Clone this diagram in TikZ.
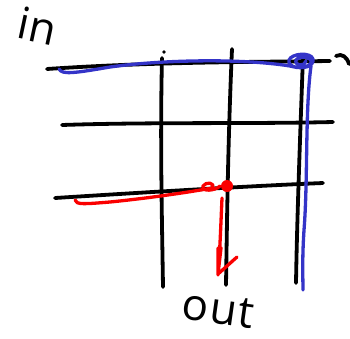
\documentclass[tikz,border=0pt]{standalone}
\usepackage{fontspec}
\setmainfont{Open Sans}
\begin{document}
\begin{tikzpicture}[x=1pt,y=-1pt,
  ink/.style={line width=3.8pt,line cap=round,line join=round,black},
  bluepen/.style={line width=3.3pt,line cap=round,line join=round,color={rgb,255:red,52;green,52;blue,200}},
  redpen/.style={line width=3.3pt,line cap=round,line join=round,color={rgb,255:red,250;green,0;blue,0}},
  label/.style={font=\fontsize{44}{44}\selectfont,inner sep=0pt}]
\useasboundingbox (0,0) rectangle (350,338);
% grid
\draw[ink] (47,69) .. controls (150,62) and (250,62) .. (330,61);
\draw[ink] (62,125) .. controls (150,122) and (250,124) .. (333,122);
\draw[ink] (55,198) .. controls (150,192) and (250,186) .. (323,183);
\draw[ink] (162,58) .. controls (160,140) and (162,220) .. (163,287);
\draw[ink] (232,49) .. controls (228,140) and (227,220) .. (226,285);
\draw[ink] (303,56) .. controls (300,140) and (297,220) .. (296,283);
\fill (164,52) circle (1.8pt);
\draw[ink] (336,56) .. controls (342,53) and (347,57) .. (349,64);
% blue path
\draw[bluepen] (59,69) .. controls (62,75) and (75,73) .. (110,67)
  .. controls (160,60) and (240,58) .. (290,66)
  .. controls (305,70) and (314,66) .. (313,59)
  .. controls (311,52) and (292,53) .. (289,60)
  .. controls (287,68) and (305,71) .. (311,63)
  .. controls (313,57) and (300,55) .. (296,60)
  .. controls (294,66) and (305,67) .. (306,61);
\draw[bluepen] (311,66) .. controls (305,110) and (308,180) .. (304,230)
  .. controls (302,260) and (303,280) .. (303,290);
% red path
\draw[redpen] (75,200) .. controls (76,205) and (85,204) .. (110,202)
  .. controls (150,198) and (190,192) .. (212,188)
  .. controls (216,183) and (206,181) .. (203,186)
  .. controls (201,192) and (215,191) .. (220,186);
\fill[color={rgb,255:red,250;green,0;blue,0}] (227,186) circle (6pt);
\draw[redpen] (222,198) .. controls (221,220) and (220,250) .. (218,275)
  -- (218,248) -- (221,248) -- (218,274) -- (237,257);
% labels
\node[label,rotate=-12] (in) at (38,26) {in};
\node[label,rotate=-8] (out) at (218,309) {o\kern2pt u\kern1pt t};
\end{tikzpicture}
\end{document}
